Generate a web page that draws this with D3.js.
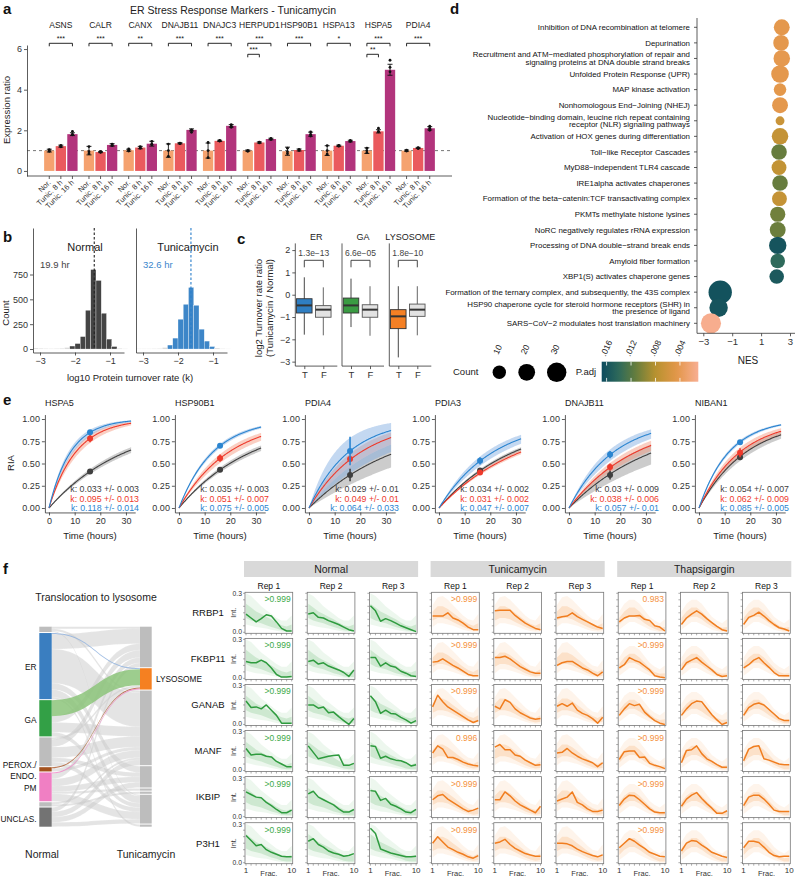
<!DOCTYPE html>
<html><head><meta charset="utf-8">
<script src="https://cdn.jsdelivr.net/npm/d3@7"></script>
<style>body{margin:0;background:#fff}svg{display:block}</style>
</head><body><svg id="c" width="798" height="878"></svg>
<script>
// ================= DATA =================
// Panel a
const genesA = ["ASNS","CALR","CANX","DNAJB11","DNAJC3","HERPUD1","HSP90B1","HSPA13","HSPA5","PDIA4"];
const condA = ["Nor.","Tunic. 8 h","Tunic. 16 h"];
const meanNor = [1.0,1.0,1.02,1.0,1.0,1.0,0.97,1.0,1.0,1.0];
const mean8h  = [1.22,0.93,1.15,1.36,1.48,1.4,1.03,1.24,1.95,1.13];
const mean16h = [1.81,1.28,1.34,2.02,2.22,1.57,1.81,1.47,4.98,2.1];
const sdNor = [0.07,0.21,0.05,0.33,0.37,0.03,0.2,0.24,0.14,0.03];
const sd8h  = [0.05,0.03,0.06,0.03,0.03,0.03,0.05,0.03,0.08,0.03];
const sd16h = [0.07,0.06,0.12,0.05,0.06,0.04,0.1,0.04,0.27,0.08];
const repNor = [[1.05,0.97,0.98],[1.2,0.85,0.95],[1.08,1.0,0.98],[1.32,1.0,0.72],[1.4,1.0,0.65],[1.0,0.98,0.97],[1.12,0.95,0.85],[1.25,1.0,0.82],[1.12,1.0,0.9],[1.02,1.0,0.98]];
const rep8h  = [[1.26,1.19,1.2],[0.95,0.92,0.93],[1.2,1.12,1.13],[1.37,1.34,1.36],[1.48,1.47,1.5],[1.42,1.4,1.38],[1.05,1.0,1.05],[1.26,1.23,1.22],[2.1,1.95,1.92],[1.14,1.12,1.1]];
const rep16h = [[1.95,1.78,1.8],[1.32,1.25,1.28],[1.45,1.3,1.3],[2.02,2.0,1.9],[2.28,2.2,2.15],[1.6,1.55,1.57],[1.92,1.8,1.72],[1.5,1.45,1.47],[5.45,5.1,4.88],[2.2,2.1,2.0]];
const sigGene = ["ASNS","CALR","CANX","DNAJB11","DNAJC3","HERPUD1","HERPUD1","HSP90B1","HSPA13","HSPA5","HSPA5","PDIA4"];
const sigTo   = [2,2,2,2,2,2,1,2,2,2,1,2];
const sigLab  = ["***","***","**","***","***","***","***","***","*","***","**","***"];

// Panel b
const binStart = [-3.2,-3.05,-2.9,-2.75,-2.6,-2.45,-2.3,-2.15,-2.0,-1.85,-1.7,-1.55,-1.4,-1.25,-1.1,-0.95,-0.8,-0.65];
const binWidth = 0.15;
const countNormal = [10,8,5,4,5,8,15,30,55,125,390,800,690,360,100,25,8,3];
const countTunic  = [3,3,3,4,5,15,40,110,300,450,620,440,200,80,25,10,4,2];
const medianNormal = -1.45, medianTunic = -1.63;
const halfLifeLabels = ["19.9 hr","32.6 hr"];

// Panel c
const compartments = ["ER","GA","LYSOSOME"];
const pvalC = ["1.3e\u221213","6.6e\u221205","1.8e\u221210"];
// [whiskerLow, q1, median, q3, whiskerHigh]
const boxT = [[-1.79,-0.82,-0.48,-0.18,0.78],[-1.45,-0.82,-0.48,-0.15,0.72],[-2.81,-1.52,-0.97,-0.67,0.38]];
const boxF = [[-1.82,-1.01,-0.67,-0.49,0.33],[-1.84,-1.01,-0.67,-0.45,0.38],[-1.82,-0.97,-0.67,-0.42,0.38]];

// Panel d
const pathways = [
 "Inhibition of DNA recombination at telomere",
 "Depurination",
 "Recruitment and ATM\u2212mediated phosphorylation of repair and|signaling proteins at DNA double strand breaks",
 "Unfolded Protein Response (UPR)",
 "MAP kinase activation",
 "Nonhomologous End\u2212Joining (NHEJ)",
 "Nucleotide\u2212binding domain, leucine rich repeat containing|receptor (NLR) signaling pathways",
 "Activation of HOX genes during differentiation",
 "Toll\u2212like Receptor Cascades",
 "MyD88\u2212independent TLR4 cascade",
 "IRE1alpha activates chaperones",
 "Formation of the beta\u2212catenin:TCF transactivating complex",
 "PKMTs methylate histone lysines",
 "NoRC negatively regulates rRNA expression",
 "Processing of DNA double\u2212strand break ends",
 "Amyloid fiber formation",
 "XBP1(S) activates chaperone genes",
 "Formation of the ternary complex, and subsequently, the 43S complex",
 "HSP90 chaperone cycle for steroid hormone receptors (SHR) in|the presence of ligand",
 "SARS\u2212CoV\u22122 modulates host translation machinery"];
const nes   = [2.43,2.38,2.43,2.31,2.31,2.31,2.31,2.31,2.24,2.24,2.31,2.27,2.15,2.15,2.15,2.15,2.08,-1.83,-1.94,-2.47];
const countD= [17,16,19,23,8,17,2,19,16,14,16,14,15,17,22,13,13,49,26,33];
const padj  = [0.0043,0.0043,0.0042,0.0043,0.0044,0.0043,0.0066,0.0070,0.0112,0.0072,0.0112,0.0070,0.0108,0.0110,0.0160,0.0140,0.0155,0.0162,0.0160,0.0012];
const countBreaks = [10,20,30];
const padjBreaks = [0.016,0.012,0.008,0.004];
const padjStops  = [0.0168,0.0140,0.0115,0.0080,0.0045,0.0010];
const padjColors = ["#0C4B5E","#2E6A5B","#5F7B3F","#B8922F","#E39749","#F8AE92"];

// Panel e
const genesE = ["HSPA5","HSP90B1","PDIA4","PDIA3","DNAJB11","NIBAN1"];
const kNormal = [0.033,0.035,0.029,0.034,0.03,0.054];
const eNormal = [0.003,0.003,0.01,0.002,0.009,0.007];
const kTun8   = [0.095,0.051,0.049,0.031,0.038,0.062];
const eTun8   = [0.013,0.007,0.01,0.002,0.006,0.009];
const kTun16  = [0.118,0.075,0.064,0.047,0.057,0.085];
const eTun16  = [0.014,0.005,0.033,0.007,0.01,0.005];
const ptTime = 16;
const ptNormal = [0.41,0.43,0.37,0.42,0.37,0.57];
const ptNormalErr = [0.015,0.01,0.07,0.01,0.05,0.02];
const ptTun8 = [0.78,0.56,0.55,0.40,0.46,0.62];
const ptTun8Err = [0.04,0.04,0.03,0.02,0.04,0.05];
const ptTun16 = [0.85,0.70,0.64,0.53,0.60,0.74];
const ptTun16Err = [0.015,0.01,0.16,0.04,0.04,0.01];

// Panel f (sankey)
const leftNodes  = ["L0","ER","GA","L3","PEROX","PM","L6","UNCLAS"];
const leftLabels = ["","ER","GA","","PEROX./|ENDO.","PM","","UNCLAS."];
const rightNodes = ["R0","LYSOSOME","R2","R3","R4","R5","R6","R7"];
const flowSource = ["L0","L0","L0","ER","ER","ER","ER","ER","ER","GA","GA","GA","GA","L3","L3","L3","L3","L3","PEROX","PEROX","PM","PM","PM","PM","PM","PM","L6","L6","UNCLAS","UNCLAS","UNCLAS","UNCLAS"];
const flowTarget = ["R0","R2","R6","LYSOSOME","R0","R2","R3","R6","R7","LYSOSOME","R0","R2","R6","LYSOSOME","R0","R2","R3","R6","LYSOSOME","R2","LYSOSOME","R0","R2","R3","R4","R6","R2","R5","R0","R2","R3","R6"];
const flowValue  = [2,2,1,1,14,32,6,7,2,15,6,9,4,2,7,10,4,4,1,3,1,5,7,5,2,7,2,2,4,5,5,4];

// Panel f (profiles): 9 columns = Normal R1-3, Tunicamycin R1-3, Thapsigargin R1-3; 10 fractions
const fGenes = ["RRBP1","FKBP11","GANAB","MANF","IKBIP","P3H1"];
const fConds = ["Normal","Tunicamycin","Thapsigargin"];
const fReps = ["Rep 1","Rep 2","Rep 3"];
const fractions = [1,2,3,4,5,6,7,8,9,10];
const profRRBP1 = [
 [0.14,0.11,0.08,0.105,0.135,0.125,0.08,0.03,0.01,0.01],
 [0.14,0.15,0.115,0.11,0.09,0.075,0.06,0.04,0.02,0.01],
 [0.205,0.165,0.085,0.105,0.09,0.07,0.05,0.035,0.02,0.005],
 [0.125,0.125,0.125,0.15,0.11,0.095,0.07,0.04,0.02,0.02],
 [0.165,0.17,0.17,0.17,0.13,0.1,0.07,0.05,0.03,0.02],
 [0.11,0.12,0.125,0.15,0.12,0.1,0.08,0.06,0.04,0.03],
 [0.08,0.11,0.125,0.125,0.13,0.1,0.09,0.05,0.04,0.01],
 [0.06,0.11,0.14,0.165,0.14,0.105,0.075,0.045,0.02,0.01],
 [0.06,0.115,0.13,0.155,0.125,0.09,0.06,0.035,0.025,0.01]];
const profFKBP11 = [
 [0.13,0.12,0.12,0.14,0.12,0.08,0.03,0.01,0.01,0.015],
 [0.13,0.14,0.11,0.12,0.095,0.08,0.065,0.045,0.015,0.065],
 [0.16,0.16,0.095,0.12,0.095,0.085,0.055,0.04,0.02,0.015],
 [0.125,0.13,0.15,0.125,0.1,0.08,0.055,0.03,0.02,0.02],
 [0.16,0.16,0.17,0.15,0.12,0.09,0.07,0.05,0.04,0.04],
 [0.1,0.12,0.13,0.13,0.105,0.08,0.065,0.04,0.02,0.05],
 [0.08,0.105,0.16,0.14,0.125,0.095,0.065,0.02,0.01,0.005],
 [0.065,0.12,0.14,0.16,0.125,0.095,0.065,0.03,0.015,0.02],
 [0.08,0.105,0.14,0.16,0.12,0.085,0.045,0.02,0.02,0.02]];
const profGANAB = [
 [0.18,0.13,0.135,0.12,0.15,0.11,0.07,0.01,0.01,0.01],
 [0.15,0.15,0.125,0.135,0.09,0.095,0.06,0.03,0.0,0.045],
 [0.22,0.175,0.085,0.11,0.085,0.08,0.055,0.035,0.01,0.03],
 [0.135,0.225,0.175,0.135,0.11,0.085,0.06,0.035,0.015,0.03],
 [0.14,0.12,0.19,0.17,0.12,0.09,0.07,0.05,0.04,0.045],
 [0.14,0.16,0.14,0.165,0.11,0.085,0.07,0.045,0.01,0.055],
 [0.07,0.12,0.16,0.145,0.155,0.095,0.06,0.03,0.01,0.0],
 [0.07,0.12,0.16,0.18,0.175,0.125,0.075,0.035,0.0,0.015],
 [0.07,0.13,0.155,0.165,0.15,0.115,0.08,0.045,0.03,0.03]];
const profMANF = [
 [0.17,0.12,0.125,0.125,0.11,0.105,0.07,0.05,0.03,0.03],
 [0.19,0.14,0.09,0.10,0.11,0.115,0.12,0.04,0.04,0.055],
 [0.19,0.185,0.095,0.11,0.09,0.08,0.075,0.06,0.035,0.045],
 [0.135,0.19,0.165,0.1,0.1,0.085,0.065,0.05,0.04,0.035],
 [0.18,0.2,0.16,0.16,0.12,0.11,0.08,0.06,0.04,0.045],
 [0.135,0.14,0.17,0.135,0.11,0.09,0.075,0.06,0.03,0.06],
 [0.085,0.145,0.15,0.15,0.1,0.105,0.055,0.04,0.03,0.015],
 [0.06,0.155,0.16,0.19,0.13,0.09,0.07,0.045,0.025,0.025],
 [0.075,0.165,0.185,0.19,0.09,0.08,0.065,0.05,0.045,0.045]];
const profIKBIP = [
 [0.19,0.17,0.15,0.145,0.11,0.085,0.055,0.03,0.03,0.05],
 [0.175,0.195,0.15,0.13,0.11,0.09,0.06,0.035,0.035,0.055],
 [0.2,0.195,0.125,0.14,0.095,0.08,0.06,0.035,0.03,0.055],
 [0.13,0.16,0.17,0.135,0.11,0.085,0.06,0.04,0.05,0.065],
 [0.13,0.13,0.19,0.16,0.12,0.09,0.07,0.05,0.03,0.08],
 [0.12,0.135,0.15,0.19,0.11,0.09,0.06,0.04,0.04,0.05],
 [0.085,0.135,0.165,0.16,0.13,0.095,0.06,0.035,0.03,0.03],
 [0.08,0.135,0.165,0.185,0.14,0.1,0.065,0.025,0.025,0.045],
 [0.085,0.15,0.165,0.165,0.135,0.095,0.05,0.04,0.04,0.04]];
const profP3H1 = [
 [0.21,0.17,0.13,0.14,0.10,0.08,0.065,0.05,0.045,0.045],
 [0.165,0.185,0.14,0.12,0.09,0.075,0.065,0.05,0.055,0.07],
 [0.265,0.225,0.105,0.09,0.075,0.065,0.055,0.045,0.045,0.05],
 [0.15,0.2,0.16,0.12,0.1,0.08,0.065,0.045,0.035,0.055],
 [0.15,0.16,0.18,0.14,0.11,0.09,0.07,0.06,0.05,0.05],
 [0.15,0.15,0.145,0.13,0.105,0.085,0.07,0.055,0.045,0.06],
 [0.115,0.15,0.185,0.165,0.135,0.11,0.08,0.065,0.05,0.045],
 [0.09,0.15,0.17,0.165,0.135,0.11,0.08,0.065,0.05,0.04],
 [0.115,0.165,0.165,0.155,0.12,0.08,0.055,0.045,0.05,0.05]];
const fScores = [[">0.999",">0.999","0.983"],[">0.999",">0.999",">0.999"],[">0.999",">0.999",">0.999"],[">0.999","0.996",">0.999"],[">0.999",">0.999",">0.999"],[">0.999",">0.999",">0.999"]];
// background marker-protein envelopes per condition (outer lo/hi, inner lo/hi)
const bgNormal = [[0.06,0.05,0.04,0.035,0.03,0.02,0.012,0.005,0,0],[0.3,0.28,0.24,0.2,0.17,0.14,0.11,0.09,0.09,0.13],[0.11,0.09,0.08,0.07,0.055,0.04,0.03,0.015,0.01,0.01],[0.22,0.19,0.16,0.14,0.12,0.1,0.075,0.055,0.045,0.06]];
const bgTunic  = [[0.04,0.07,0.07,0.06,0.05,0.035,0.02,0.01,0.005,0.005],[0.21,0.27,0.28,0.25,0.21,0.17,0.13,0.1,0.09,0.14],[0.09,0.11,0.11,0.1,0.08,0.06,0.04,0.025,0.015,0.02],[0.16,0.2,0.2,0.18,0.15,0.12,0.09,0.065,0.05,0.07]];
const bgThaps  = [[0.02,0.05,0.08,0.08,0.06,0.04,0.02,0.01,0,0],[0.16,0.22,0.25,0.25,0.22,0.17,0.12,0.09,0.07,0.1],[0.06,0.1,0.12,0.12,0.1,0.07,0.045,0.025,0.01,0.01],[0.11,0.16,0.19,0.19,0.16,0.12,0.08,0.05,0.035,0.04]];

// ================= DRAWING =================
const FONT = '"Liberation Sans", Arial, Helvetica, sans-serif';
const svg = d3.select("#c").attr("font-family", FONT);
const INK = "#333";
function T(g, x, y, s, o = {}) {
  const t = g.append("text").attr("x", x).attr("y", y).text(s)
    .attr("font-size", o.size || 9).attr("fill", o.fill || "#222")
    .attr("text-anchor", o.anchor || "start");
  if (o.weight) t.attr("font-weight", o.weight);
  if (o.rotate != null) t.attr("transform", `rotate(${o.rotate},${x},${y})`);
  if (o.dy) t.attr("dy", o.dy);
  return t;
}
function styleAxis(g, fs) {
  g.attr("font-family", FONT).attr("font-size", fs);
  g.selectAll("text").attr("fill", "#333");
  g.selectAll("line").attr("stroke", INK).attr("stroke-width", 0.8);
  g.selectAll("path.domain").attr("stroke", INK).attr("stroke-width", 0.8);
}
// panel letters
[["a",3,14],["b",3,242],["c",237,244],["d",450,14],["e",3,405],["f",3,574]].forEach(([s,x,y]) => T(svg, x, y, s, {size: 15, weight: "bold", fill: "#111"}));

// ---------- Panel a ----------
(function () {
  const g = svg.append("g");
  const barColors = ["#F5A26F", "#EA5A5E", "#B2347C"];
  const means = [meanNor, mean8h, mean16h], sds = [sdNor, sd8h, sd16h], reps = [repNor, rep8h, rep16h];
  const x = d3.scaleBand().domain(genesA).range([41, 438]);
  const xi = d3.scaleBand().domain(d3.range(3)).range([0, x.bandwidth()]).paddingInner(0.11).paddingOuter(0.27);
  const y = d3.scaleLinear().domain([-0.25, 6.2]).range([176, 45]);
  const cx = (gi, j) => x(genesA[gi]) + xi(j) + xi.bandwidth() / 2;
  T(g, 233, 14, "ER Stress Response Markers - Tunicamycin", {size: 10.5, anchor: "middle"});
  genesA.forEach((gn) => T(g, x(gn) + x.bandwidth() / 2, 28, gn, {size: 8.5, anchor: "middle"}));
  g.append("line").attr("x1", 27).attr("x2", 452).attr("y1", y(1)).attr("y2", y(1))
    .attr("stroke", "#666").attr("stroke-width", 0.9).attr("stroke-dasharray", "3,3");
  genesA.forEach((gn, gi) => {
    for (let j = 0; j < 3; j++) {
      const m = means[j][gi], s = sds[j][gi], xc = cx(gi, j);
      g.append("rect").attr("x", x(gn) + xi(j)).attr("width", xi.bandwidth())
        .attr("y", y(m)).attr("height", y(0) - y(m)).attr("fill", barColors[j]);
      g.append("line").attr("x1", xc).attr("x2", xc).attr("y1", y(m - s)).attr("y2", y(m + s)).attr("stroke", "#111").attr("stroke-width", 0.9);
      [m - s, m + s].forEach(v => g.append("line").attr("x1", xc - 2.5).attr("x2", xc + 2.5).attr("y1", y(v)).attr("y2", y(v)).attr("stroke", "#111").attr("stroke-width", 0.9));
      reps[j][gi].forEach(v => g.append("circle").attr("cx", xc).attr("cy", y(v)).attr("r", 1.4).attr("fill", "#111"));
    }
  });
  sigGene.forEach((gn, k) => {
    const gi = genesA.indexOf(gn);
    const lvl = sigTo[k] === 2 ? 0 : 1;
    const yb = lvl === 0 ? 43.3 : 54.3;
    const x1 = cx(gi, 0), x2 = cx(gi, sigTo[k]);
    g.append("path").attr("d", `M${x1},${yb + 3}V${yb}H${x2}V${yb + 3}`).attr("fill", "none").attr("stroke", "#111").attr("stroke-width", 0.9);
    T(g, (x1 + x2) / 2, yb - 2, sigLab[k], {size: 7, anchor: "middle", fill: "#111"});
  });
  const ay = g.append("g").attr("transform", "translate(27,0)").call(d3.axisLeft(y).tickValues([0, 2, 4, 6]).tickFormat(d3.format("d")).tickSize(3).tickSizeOuter(0).tickPadding(2));
  styleAxis(ay, 9);
  g.append("line").attr("x1", 27).attr("x2", 452).attr("y1", 176).attr("y2", 176).attr("stroke", INK).attr("stroke-width", 0.8);
  genesA.forEach((gn, gi) => {
    for (let j = 0; j < 3; j++) {
      const xc = cx(gi, j);
      g.append("line").attr("x1", xc).attr("x2", xc).attr("y1", 176).attr("y2", 179).attr("stroke", INK).attr("stroke-width", 0.8);
      T(g, xc + 2, 183, condA[j], {size: 7.5, anchor: "end", rotate: -45, fill: "#333"});
    }
  });
  T(g, 9.5, 110, "Expression ratio", {size: 9.5, anchor: "middle", rotate: -90});
})();

// ---------- Panel b ----------
(function () {
  const g = svg.append("g");
  const y = d3.scaleLinear().domain([-35, 1218]).range([352.5, 228]);
  const panels = [
    {x0: 33, counts: countNormal, col: "#444444", med: medianNormal, medCol: "#222", title: "Normal", lab: halfLifeLabels[0], labCol: "#444"},
    {x0: 136, counts: countTunic, col: "#3D86C8", med: medianTunic, medCol: "#2A7FCB", title: "Tunicamycin", lab: halfLifeLabels[1], labCol: "#3A86CC"}];
  panels.forEach((p, pi) => {
    const x = d3.scaleLinear().domain([-3.2, -0.6]).range([p.x0, p.x0 + 91]);
    T(g, p.x0 + 52, 251, p.title, {size: 11, anchor: "middle"});
    binStart.forEach((b, i) => {
      const c = p.counts[i];
      g.append("rect").attr("x", x(b)).attr("width", x(b + binWidth) - x(b)).attr("y", y(c)).attr("height", y(0) - y(c))
        .attr("fill", c < 20 ? "#d6d6d6" : p.col).attr("stroke", "#fff").attr("stroke-width", 0.3);
    });
    g.append("line").attr("x1", x(p.med)).attr("x2", x(p.med)).attr("y1", 228).attr("y2", y(0)).attr("stroke", p.medCol).attr("stroke-width", 1.1).attr("stroke-dasharray", "2.5,2");
    T(g, p.x0 + 7, 268, p.lab, {size: 9.5, fill: p.labCol});
    const ax = g.append("g").attr("transform", "translate(0,352.5)").call(d3.axisBottom(x).tickValues([-3, -2, -1]).tickFormat(d3.format("d")).tickSize(3).tickSizeOuter(0).tickPadding(2));
    styleAxis(ax, 9);
    const ay = g.append("g").attr("transform", `translate(${p.x0},0)`).call(d3.axisLeft(y).tickValues(pi === 0 ? [0, 250, 500, 750] : []).tickSize(3).tickSizeOuter(0).tickPadding(2));
    styleAxis(ay, 9);
  });
  T(g, 130, 381, "log10 Protein turnover rate (k)", {size: 9.5, anchor: "middle"});
  T(g, 9, 313, "Count", {size: 9.5, anchor: "middle", rotate: -90});
})();

// ---------- Panel c ----------
(function () {
  const g = svg.append("g");
  const y = d3.scaleLinear().domain([-3.2, 2.3]).range([366.1, 243.4]);
  const lefts = [295.3, 342, 389.3];
  const fillT = ["#2F7EC2", "#3A9B43", "#F58024"];
  lefts.forEach((L, i) => {
    const x = d3.scalePoint().domain(["T", "F"]).range([L + 9, L + 28]);
    T(g, L + 21, 239.5, compartments[i], {size: 9, anchor: "middle"});
    const bw = 15.5;
    [["T", boxT[i], fillT[i], "#333"], ["F", boxF[i], "#E2E2E2", "#555"]].forEach(([k, b, fc, sc]) => {
      const xc = x(k);
      g.append("line").attr("x1", xc).attr("x2", xc).attr("y1", y(b[0])).attr("y2", y(b[4])).attr("stroke", sc).attr("stroke-width", 0.9);
      g.append("rect").attr("x", xc - bw / 2).attr("width", bw).attr("y", y(b[3])).attr("height", y(b[1]) - y(b[3]))
        .attr("fill", fc).attr("stroke", sc).attr("stroke-width", 0.9);
      g.append("line").attr("x1", xc - bw / 2).attr("x2", xc + bw / 2).attr("y1", y(b[2])).attr("y2", y(b[2])).attr("stroke", "#333").attr("stroke-width", 2);
    });
    const xa = x("T"), xb = x("F");
    g.append("path").attr("d", `M${xa},267.3V260.3H${xb}V267.3`).attr("fill", "none").attr("stroke", "#333").attr("stroke-width", 0.9);
    T(g, (xa + xb) / 2, 256.3, pvalC[i], {size: 8.5, anchor: "middle", fill: "#444"});
    g.append("line").attr("x1", L).attr("x2", L).attr("y1", 243.4).attr("y2", 366.1).attr("stroke", INK).attr("stroke-width", 0.8);
    const ax = g.append("g").attr("transform", "translate(0,366.1)").call(d3.axisBottom(x).tickSize(3).tickSizeOuter(0).tickPadding(2));
    ax.select("path.domain").remove();
    g.append("line").attr("x1", L).attr("x2", L + 42).attr("y1", 366.1).attr("y2", 366.1).attr("stroke", INK).attr("stroke-width", 0.8);
    styleAxis(ax, 9.5);
  });
  const ay = g.append("g").attr("transform", "translate(295.3,0)").call(d3.axisLeft(y).tickValues([-3, -2, -1, 0, 1, 2]).tickFormat(d3.format("d")).tickSize(3).tickSizeOuter(0).tickPadding(2));
  ay.select("path.domain").remove();
  styleAxis(ay, 9);
  T(g, 262, 308, "log2 Turnover rate ratio", {size: 9.5, anchor: "middle", rotate: -90});
  T(g, 272.5, 308, "(Tunicamycin / Normal)", {size: 9.5, anchor: "middle", rotate: -90});
})();

// ---------- Panel d ----------
(function () {
  const g = svg.append("g");
  const y = d3.scalePoint().domain(d3.range(pathways.length)).range([27.3, 323.3]);
  const x = d3.scaleLinear().domain([-3, 3]).range([703.3, 790]);
  const r = d3.scaleSqrt().domain([0, 30]).range([2.6, 9.7]);
  const color = d3.scaleLinear().domain(padjStops).range(padjColors);
  g.append("line").attr("x1", 697).attr("x2", 697).attr("y1", 18).attr("y2", 333.3).attr("stroke", INK).attr("stroke-width", 0.8);
  pathways.forEach((p, i) => {
    const yy = y(i);
    g.append("line").attr("x1", 694).attr("x2", 697).attr("y1", yy).attr("y2", yy).attr("stroke", INK).attr("stroke-width", 0.8);
    const lines = p.split("|");
    lines.forEach((ln, k) => {
      const off = lines.length === 1 ? 0 : (k === 0 ? -3.8 : 3.8);
      T(g, 690, yy + off, ln, {size: 7.9, anchor: "end", dy: "0.35em", fill: "#111"});
    });
  });
  pathways.forEach((p, i) => {
    g.append("circle").attr("cx", x(nes[i])).attr("cy", y(i)).attr("r", r(countD[i])).attr("fill", color(padj[i]));
  });
  const ax = g.append("g").attr("transform", "translate(0,333.3)").call(d3.axisBottom(x).tickValues([-3, -1, 1, 3]).tickFormat(d3.format("d")).tickSize(3).tickSizeOuter(0).tickPadding(2));
  ax.select("path.domain").remove();
  g.append("line").attr("x1", 697).attr("x2", 795).attr("y1", 333.3).attr("y2", 333.3).attr("stroke", INK).attr("stroke-width", 0.8);
  styleAxis(ax, 9.5);
  T(g, 748, 364, "NES", {size: 10, anchor: "middle"});
  T(g, 453, 375, "Count", {size: 9.5});
  const lx = [499.3, 526.7, 556.7];
  countBreaks.forEach((c, i) => {
    g.append("circle").attr("cx", lx[i]).attr("cy", 372.3).attr("r", r(c)).attr("fill", "#000");
    T(g, lx[i] - 1, 355, String(c), {size: 8.5, rotate: -65, fill: "#222"});
  });
  T(g, 575.7, 375, "P.adj", {size: 9.5});
  const gx = d3.scaleLinear().domain([0.0168, 0.001]).range([601.7, 698.3]);
  const defs = svg.append("defs");
  const lg = defs.append("linearGradient").attr("id", "padjGrad").attr("x1", "0").attr("x2", "1").attr("y1", "0").attr("y2", "0");
  d3.range(0, 1.0001, 0.05).forEach(t => lg.append("stop").attr("offset", t).attr("stop-color", color(gx.invert(601.7 + t * 96.6))));
  g.append("rect").attr("x", 601.7).attr("y", 361.7).attr("width", 96.6).attr("height", 20).attr("fill", "url(#padjGrad)");
  padjBreaks.forEach(v => {
    const xx = gx(v);
    g.append("line").attr("x1", xx).attr("x2", xx).attr("y1", 361.7).attr("y2", 365.5).attr("stroke", "#fff").attr("stroke-width", 0.8);
    g.append("line").attr("x1", xx).attr("x2", xx).attr("y1", 377.9).attr("y2", 381.7).attr("stroke", "#fff").attr("stroke-width", 0.8);
    T(g, xx - 1, 357, d3.format(".3f")(v).replace(/^0/, ""), {size: 8.5, rotate: -65, fill: "#222"});
  });
})();

// ---------- Panel e ----------
(function () {
  const g = svg.append("g");
  const cols = {n: "#3F3F3F", r: "#EE3A2C", b: "#2B85D0"};
  const bands = {n: "#8E8E8E", r: "#F39479", b: "#7AA9E0"};
  const times = d3.range(0, 32.001, 0.25);
  genesE.forEach((gn, i) => {
    const x0 = 49 + 130 * i;
    const x = d3.scaleLinear().domain([-1.6, 33.6]).range([x0 - 4.1, x0 + 86.2]);
    const y = d3.scaleLinear().domain([-0.05, 1.05]).range([512.45, 414.55]);
    T(g, x0 - 4, 406, gn, {size: 9});
    const sets = [["n", kNormal[i], eNormal[i], ptNormal[i], ptNormalErr[i]], ["r", kTun8[i], eTun8[i], ptTun8[i], ptTun8Err[i]], ["b", kTun16[i], eTun16[i], ptTun16[i], ptTun16Err[i]]];
    const f = (k, t) => 1 - Math.exp(-k * t);
    sets.forEach(([c, k, e]) => {
      const area = d3.area().x(t => x(t)).y0(t => y(f(Math.max(k - e, 0), t))).y1(t => y(f(k + e, t)));
      g.append("path").attr("d", area(times)).attr("fill", bands[c]).attr("opacity", 0.45);
    });
    sets.forEach(([c, k]) => {
      const line = d3.line().x(t => x(t)).y(t => y(f(k, t)));
      g.append("path").attr("d", line(times)).attr("fill", "none").attr("stroke", cols[c]).attr("stroke-width", 1.1);
    });
    sets.forEach(([c, k, e, p, pe]) => {
      g.append("line").attr("x1", x(ptTime)).attr("x2", x(ptTime)).attr("y1", y(p - pe)).attr("y2", y(p + pe)).attr("stroke", cols[c]).attr("stroke-width", 1.6);
      g.append("circle").attr("cx", x(ptTime)).attr("cy", y(p)).attr("r", 3).attr("fill", cols[c]);
    });
    sets.forEach(([c, k, e], j) => {
      T(g, x0 + 90, 492 + j * 9.7, `k: ${k} +/- ${e}`, {size: 8.8, anchor: "end", fill: cols[c]});
    });
    const ax = g.append("g").attr("transform", "translate(0,512.45)").call(d3.axisBottom(x).tickValues([0, 10, 20, 30]).tickSize(3).tickSizeOuter(0).tickPadding(2));
    styleAxis(ax, 9);
    const ay = g.append("g").attr("transform", `translate(${x0 - 4.1},0)`).call(d3.axisLeft(y).tickValues([0, 0.25, 0.5, 0.75, 1]).tickFormat(d3.format(".2f")).tickSize(3).tickSizeOuter(0).tickPadding(2));
    styleAxis(ay, 9);
    T(g, x0 + 41, 539, "Time (hours)", {size: 9.5, anchor: "middle"});
  });
  T(g, 14, 463, "RIA", {size: 9.5, anchor: "middle", rotate: -90});
})();

// ---------- Panel f : sankey ----------
(function () {
  const g = svg.append("g");
  T(g, 96, 601, "Translocation to lysosome", {size: 10.5, anchor: "middle"});
  const nodeCol = {L0: "#BDBDBD", ER: "#3A7EC0", GA: "#33A046", L3: "#BDBDBD", PEROX: "#A3521E", PM: "#F07FC3", L6: "#BDBDBD", UNCLAS: "#737373", LYSOSOME: "#F58021"};
  const linkCol = {ER: "#8FB2DE", GA: "#8CC47A", PEROX: "#B0643A", PM: "#F08CC8", L3: "#CFCFCF"};
  const total = d3.sum(flowValue);
  const gap = 1;
  const v = d3.scaleLinear().domain([0, total]).range([0, 200 - gap * 7]);
  const layout = (nodes, key) => {
    const vals = nodes.map(n => d3.sum(flowValue.filter((_, i) => key[i] === n)));
    let cum = 0; const pos = {};
    nodes.forEach((n, i) => { pos[n] = {y0: 626.7 + v(cum) + i * gap}; pos[n].y1 = pos[n].y0 + v(vals[i]); cum += vals[i]; });
    return pos;
  };
  const L = layout(leftNodes, flowSource), R = layout(rightNodes, flowTarget);
  const xL = [39.3, 51.7], xR = [140, 151.7];
  const srcOff = {}, tgtOff = {};
  leftNodes.forEach(n => srcOff[n] = L[n].y0);
  rightNodes.forEach(n => tgtOff[n] = R[n].y0);
  const links = flowValue.map((val, i) => ({s: flowSource[i], t: flowTarget[i], v: val, i}));
  links.forEach(l => { l.sy0 = srcOff[l.s]; l.sy1 = l.sy0 + v(l.v); srcOff[l.s] = l.sy1; });
  const byTarget = links.slice().sort((a, b) => rightNodes.indexOf(a.t) - rightNodes.indexOf(b.t) || leftNodes.indexOf(a.s) - leftNodes.indexOf(b.s));
  byTarget.forEach(l => { l.ty0 = tgtOff[l.t]; l.ty1 = l.ty0 + v(l.v); tgtOff[l.t] = l.ty1; });
  const x0 = xL[1], x1 = xR[0], xm = (x0 + x1) / 2;
  const pathFor = l => `M${x0},${l.sy0}C${xm},${l.sy0} ${xm},${l.ty0} ${x1},${l.ty0}L${x1},${l.ty1}C${xm},${l.ty1} ${xm},${l.sy1} ${x0},${l.sy1}Z`;
  const hl = l => l.t === "LYSOSOME" && l.s !== "L3";
  links.filter(l => !hl(l)).forEach(l => g.append("path").attr("d", pathFor(l)).attr("fill", "#C9C9C9").attr("fill-opacity", 0.5).attr("stroke", "#fff").attr("stroke-opacity", 0.35).attr("stroke-width", 0.3));
  links.filter(hl).forEach(l => g.append("path").attr("d", pathFor(l)).attr("fill", linkCol[l.s]).attr("fill-opacity", 0.85));
  leftNodes.forEach((n, i) => {
    g.append("rect").attr("x", xL[0]).attr("width", xL[1] - xL[0]).attr("y", L[n].y0).attr("height", L[n].y1 - L[n].y0).attr("fill", nodeCol[n]);
    const lines = leftLabels[i] ? leftLabels[i].split("|") : [];
    const cy = (L[n].y0 + L[n].y1) / 2 + 1.5;
    lines.forEach((ln, k) => T(g, 36.5, cy + (lines.length === 1 ? 0 : (k === 0 ? -5.5 : 5.5)), ln, {size: 8.3, anchor: "end", dy: "0.35em", fill: "#111"}));
  });
  rightNodes.forEach(n => {
    g.append("rect").attr("x", xR[0]).attr("width", xR[1] - xR[0]).attr("y", R[n].y0).attr("height", R[n].y1 - R[n].y0).attr("fill", nodeCol[n] || "#BDBDBD");
  });
  T(g, 156, (R.LYSOSOME.y0 + R.LYSOSOME.y1) / 2, "LYSOSOME", {size: 8.3, dy: "0.35em", fill: "#111"});
  T(g, 42, 858, "Normal", {size: 10.5, anchor: "middle"});
  T(g, 146, 858, "Tunicamycin", {size: 10.5, anchor: "middle"});
})();

// ---------- Panel f : profile grid ----------
(function () {
  const g = svg.append("g");
  const profiles = [profRRBP1, profFKBP11, profGANAB, profMANF, profIKBIP, profP3H1];
  const bgs = [bgNormal, bgTunic, bgThaps];
  const colX = d3.scaleLinear().domain([0, 8]).range([245, 742.6]);
  const rowY = d3.scaleLinear().domain([0, 5]).range([592.3, 822.7]);
  const W = 47.7, H = 41;
  const lineCol = ["#2E9B3E", "#F07D1F", "#F07D1F"];
  const bandCol = ["#4FAF5B", "#F5953F", "#F5953F"];
  const txtCol = ["#3DAA4A", "#F5913E", "#F5913E"];
  fConds.forEach((c, ci) => {
    const xa = colX(ci * 3) - 1, xb = colX(ci * 3 + 2) + W + 1;
    g.append("rect").attr("x", xa).attr("y", 561).attr("width", xb - xa).attr("height", 16).attr("fill", "#D9D9D9");
    T(g, (xa + xb) / 2, 573, c, {size: 10.5, anchor: "middle", fill: "#222"});
    fReps.forEach((rp, ri) => T(g, colX(ci * 3 + ri) + W / 2, 589, rp, {size: 8.5, anchor: "middle", fill: "#111"}));
  });
  fGenes.forEach((gn, gi) => {
    const y0 = rowY(gi);
    T(g, 208, y0 + H / 2, gn, {size: 9.5, anchor: "middle", dy: "0.35em", fill: "#111"});
    for (let col = 0; col < 9; col++) {
      const ci = Math.floor(col / 3);
      const xs = colX(col);
      const x = d3.scaleLinear().domain([1, 10]).range([xs + 1, xs + W - 1]);
      const y = d3.scaleLinear().domain([0, 0.3]).range([y0 + H - 1, y0 + 1]);
      const bg = bgs[ci];
      const area = (lo, hi) => d3.area().x((d, i) => x(fractions[i])).y0((d, i) => y(lo[i])).y1((d, i) => y(hi[i]))(lo);
      g.append("path").attr("d", area(bg[0], bg[1])).attr("fill", bandCol[ci]).attr("opacity", 0.1);
      g.append("path").attr("d", area(bg[2], bg[3])).attr("fill", bandCol[ci]).attr("opacity", 0.2);
      const ln = d3.line().x((d, i) => x(fractions[i])).y(d => y(d));
      g.append("path").attr("d", ln(profiles[gi][col])).attr("fill", "none").attr("stroke", lineCol[ci]).attr("stroke-width", 1.5).attr("stroke-linejoin", "round");
      g.append("rect").attr("x", xs).attr("y", y0).attr("width", W).attr("height", H).attr("fill", "none").attr("stroke", "#777").attr("stroke-width", 0.8);
      d3.range(0, 0.3001, 0.05).forEach(t => g.append("line").attr("x1", xs - 2).attr("x2", xs).attr("y1", y(t)).attr("y2", y(t)).attr("stroke", "#777").attr("stroke-width", 0.6));
      fractions.forEach(fr => g.append("line").attr("x1", x(fr)).attr("x2", x(fr)).attr("y1", y0 + H).attr("y2", y0 + H + 2).attr("stroke", "#777").attr("stroke-width", 0.6));
      if (col % 3 === 0) T(g, xs + W - 2, y0 + 10, fScores[gi][ci], {size: 8.5, anchor: "end", fill: txtCol[ci]});
      if (col === 0) {
        T(g, xs - 3, y(0.3) + 0.5, "0.3", {size: 6.8, anchor: "end", dy: "0.35em", fill: "#333"});
        T(g, xs - 3, y(0) - 0.5, "0.0", {size: 6.8, anchor: "end", dy: "0.35em", fill: "#333"});
        T(g, xs - 8.5, y0 + H / 2, "Int.", {size: 7.2, anchor: "middle", rotate: -90, fill: "#333"});
      }
      if (gi === fGenes.length - 1) {
        T(g, x(1), 873, "1", {size: 8, anchor: "middle", fill: "#333"});
        T(g, x(10), 873, "10", {size: 8, anchor: "middle", fill: "#333"});
        T(g, xs + W / 2, 876, "Frac.", {size: 7.5, anchor: "middle", fill: "#333"});
      }
    }
  });
})();
</script></body></html>
